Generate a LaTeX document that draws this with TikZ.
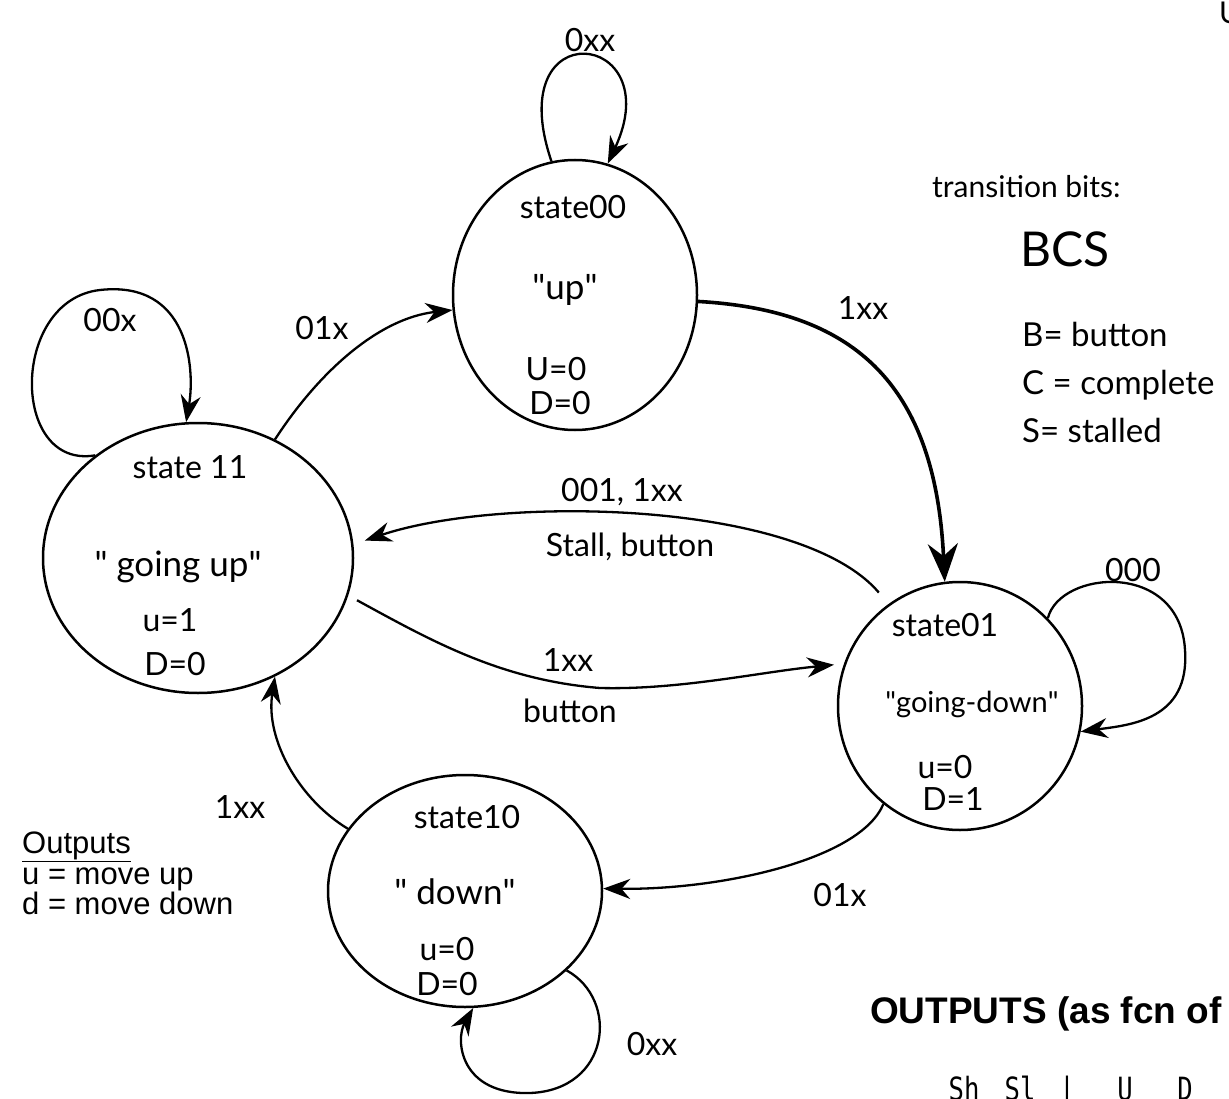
\documentclass[tikz,border=0pt]{standalone}
\usepackage{fontspec}
\setmainfont{Lato}
\newfontfamily\printfont{Liberation Sans}
\newfontfamily\codefont{DejaVu Sans Mono}
\usetikzlibrary{shapes.geometric,arrows.meta}
\newcommand{\qq}{\textquotedbl}
\begin{document}
\begin{tikzpicture}[x=1pt,y=-1pt,
  state/.style={ellipse,draw,line width=2.5pt,inner sep=0pt},
  hand/.style={font=\fontsize{32}{36}\selectfont,inner sep=0pt},
  handbig/.style={font=\fontsize{35}{40}\selectfont,inner sep=0pt},
  lbl/.style={font=\fontsize{32}{36}\selectfont,inner sep=0pt},
  trans/.style={line width=2.3pt,-{Stealth[length=27pt,width=20pt]}},
  printed/.style={font=\printfont\fontsize{31}{34}\selectfont,inner sep=0pt,anchor=base west},
  codetxt/.style={font=\codefont\fontsize{32}{34}\selectfont,inner sep=0pt,anchor=base,xscale=0.8}]
\useasboundingbox (0,0) rectangle (1229,1099);
\fill[white] (0,0) rectangle (1229,1099);

% states
\node[state,minimum width=244pt,minimum height=270pt] (s00) at (575,295) {};
\node[state,minimum width=310pt,minimum height=270pt] (s11) at (198,558) {};
\node[state,minimum width=244pt,minimum height=248pt] (s01) at (960,706) {};
\node[state,minimum width=274pt,minimum height=232pt] (s10) at (465,891) {};

% state texts
\node[hand] (n00a) at (573,207) {state00};
\node[handbig] (n00b) at (565,290) {\qq up\qq};
\node[hand] (n00c) at (556,369) {U=0};
\node[hand] (n00d) at (560,403) {D=0};

\node[hand] (n11a) at (190,467) {state 11};
\node[handbig] (n11b) at (178,567) {\qq\ going up\qq};
\node[hand] (n11c) at (170,620) {u=1};
\node[hand] (n11d) at (175,664) {D=0};

\node[hand] (n01a) at (945,625) {state01};
\node[font=\fontsize{29}{32}\selectfont,inner sep=0pt] (n01b) at (972,704) {\qq going-down\qq};
\node[hand] (n01c) at (945,767) {u=0};
\node[hand] (n01d) at (953,799) {D=1};

\node[hand] (n10a) at (467,817) {state10};
\node[handbig] (n10b) at (455,892) {\qq\ down\qq};
\node[hand] (n10c) at (447,949) {u=0};
\node[hand] (n10d) at (447,984) {D=0};

% self loops
\draw[trans] (s00.100) .. controls (500,10) and (670,30) .. (s00.76);
\draw[trans] (s11.135) .. controls (10,470) and (10,300) .. (100,290)
  .. controls (190,280) and (195,370) .. (s11.95);
\draw[trans] (s01.45) .. controls (1060,570) and (1180,560) .. (1185,650)
  .. controls (1190,720) and (1130,725) .. (s01.348);
\draw[trans] (s10.322) .. controls (620,1000) and (610,1090) .. (530,1093)
  .. controls (460,1095) and (455,1040) .. (s10.274);

% transitions
\draw[trans] (s11.57) .. controls (320,370) and (380,318) .. (s00.187);
\draw[trans,line width=3.6pt,-{Stealth[length=38pt,width=30pt]}] (s00.357) .. controls (850,310) and (935,380) .. (s01.97);
\draw[trans,shorten <=15pt,shorten >=12pt] (s01.125) .. controls (800,500) and (500,495) .. (s11.5);
\draw[trans,shorten <=10pt,shorten >=10pt] (s11.346) .. controls (430,640) and (500,680) .. (600,688)
  .. controls (680,690) and (760,672) .. (s01.160);
\draw[trans] (s01.232) .. controls (860,860) and (720,890) .. (s10.1);
\draw[trans] (s10.152) .. controls (300,800) and (265,740) .. (s11.303);

% transition labels
\node[lbl] (l00) at (590,40) {0xx};
\node[lbl] (l11) at (110,320) {00x};
\node[lbl] (l1100) at (322,328) {01x};
\node[lbl] (l0001) at (863,308) {1xx};
\node[lbl] (l0111a) at (622,492) {001, 1xx};
\node[lbl] (l0111b) at (630,547) {Stall, button};
\node[lbl] (l1101a) at (568,660) {1xx};
\node[lbl] (l1101b) at (570,711) {button};
\node[lbl] (l01) at (1133,570) {000};
\node[lbl] (l1011) at (240,807) {1xx};
\node[lbl] (l0110) at (840,895) {01x};
\node[lbl] (l10) at (652,1044) {0xx};

% legend (handwritten)
\node[font=\fontsize{30}{34}\selectfont,inner sep=0pt,anchor=base west] (tb) at (932,198) {transition bits:};
\node[font=\fontsize{48}{52}\selectfont,inner sep=0pt,anchor=base west] (bcs) at (1020,267) {BCS};
\node[font=\fontsize{33}{36}\selectfont,inner sep=0pt,anchor=base west] (bb) at (1022,347) {B= button};
\node[font=\fontsize{33}{36}\selectfont,inner sep=0pt,anchor=base west] (cc) at (1022,394) {C = complete};
\node[font=\fontsize{33}{36}\selectfont,inner sep=0pt,anchor=base west] (ss) at (1022,442) {S= stalled};
\node[font=\fontsize{30}{34}\selectfont,inner sep=0pt,anchor=base west] (uu) at (1219,24) {U};

% printed outputs legend
\node[printed] (o1) at (22,853) {\underline{Outputs}};
\node[printed] (o2) at (22,884) {u = move up};
\node[printed] (o3) at (22,914) {d = move down};

\node[font=\printfont\bfseries\fontsize{37}{40}\selectfont,inner sep=0pt,anchor=base west] (ofcn) at (870,1023) {OUTPUTS (as fcn of};
\node[codetxt] (c1) at (964,1100) {Sh};
\node[codetxt] (c2) at (1020,1100) {Sl};
\node[codetxt] (c3) at (1067,1100) {|};
\node[codetxt] (c4) at (1125,1100) {U};
\node[codetxt] (c5) at (1185,1100) {D};
\end{tikzpicture}
\end{document}
